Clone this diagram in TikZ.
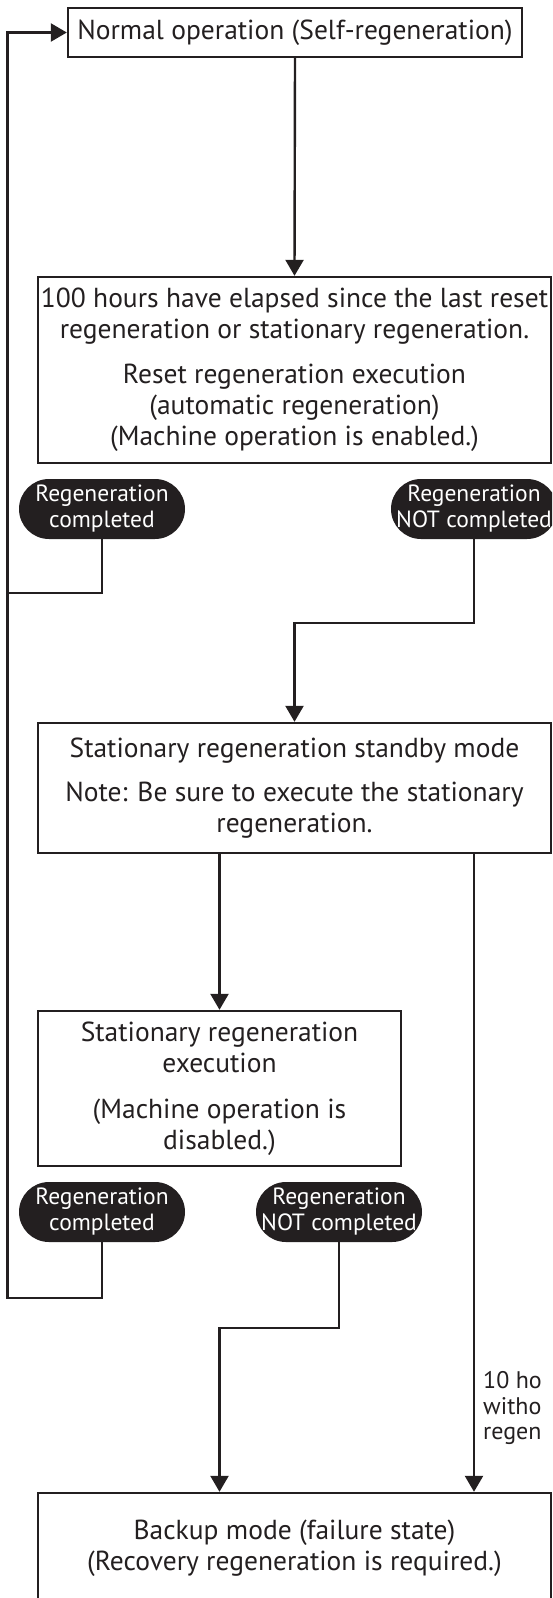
\documentclass[tikz,border=0pt]{standalone}
\usepackage{fontspec}
\setmainfont{PT Sans}
\usetikzlibrary{positioning, arrows.meta}
\definecolor{inkdark}{HTML}{231F20}

\tikzset{
  box/.style={draw=inkdark, line width=2.4pt, inner sep=0pt, align=center,
              text=inkdark, font=\fontsize{27.5}{31}\selectfont},
  pill/.style={fill=inkdark, rounded corners=30pt, minimum width=166pt,
               minimum height=60pt, inner sep=0pt, align=center, text=white,
               font=\fontsize{23.5}{26}\selectfont},
  flow/.style={draw=inkdark, line width=2.4pt, -{Triangle[width=18pt,length=16pt]}},
  link/.style={draw=inkdark, line width=2.4pt},
}

\begin{document}
\begin{tikzpicture}[x=1pt, y=-1pt]
  \useasboundingbox (0,0) rectangle (552,1598);
  \clip (0,0) rectangle (552,1598);

  % states
  \node[box, minimum width=454pt, minimum height=49pt] (normal) at (295,32.5)
    {Normal operation (Self-regeneration)};
  \node[box, minimum width=513pt, minimum height=186pt] (reset) at (294.5,370)
    {100 hours have elapsed since the last reset\\
     regeneration or stationary regeneration.\\[14pt]
     Reset regeneration execution\\
     (automatic regeneration)\\
     (Machine operation is enabled.)};
  \node[box, minimum width=513pt, minimum height=130pt] (standby) at (294.5,788)
    {Stationary regeneration standby mode\\[13pt]
     Note: Be sure to execute the stationary\\
     regeneration.};
  \node[box, minimum width=363pt, minimum height=155pt] (execbox) at (219.5,1088.5)
    {Stationary regeneration\\
     execution\\[15pt]
     (Machine operation is\\
     disabled.)};
  \node[box, minimum width=513pt, minimum height=110pt] (backup) at (294.5,1548)
    {Backup mode (failure state)\\
     (Recovery regeneration is required.)};

  % results
  \node[pill] (doneone) at (102,509) {Regeneration\\completed};
  \node[pill] (failone) at (474,509) {Regeneration\\NOT completed};
  \node[pill] (donetwo) at (102,1212) {Regeneration\\completed};
  \node[pill] (failtwo) at (339,1212) {Regeneration\\NOT completed};

  \node[anchor=west, align=left, inner sep=0pt, text=inkdark,
        font=\fontsize{24}{25.5}\selectfont] (timeout) at (483,1408)
    {10 ho\\witho\\regen};

  % loop back
  \coordinate (loopmid) at (7.5,593);
  \coordinate (loopbot) at (7.5,1298);

  \draw[flow] (normal.south) -- (reset.north);
  \draw[link] (doneone.south) |- (loopmid);
  \draw[flow] (failone.south) -- ++(0,84) -| (standby.north);
  \draw[flow] (execbox.north |- standby.south) -- (execbox.north);
  \draw[flow] (failone |- standby.south) -- (failone |- backup.north);
  \draw[flow] (donetwo.south) |- (loopbot) |- (normal.west);
  \draw[flow] (failtwo.south) -- ++(0,86) -| (execbox.south |- backup.north);
\end{tikzpicture}
\end{document}
